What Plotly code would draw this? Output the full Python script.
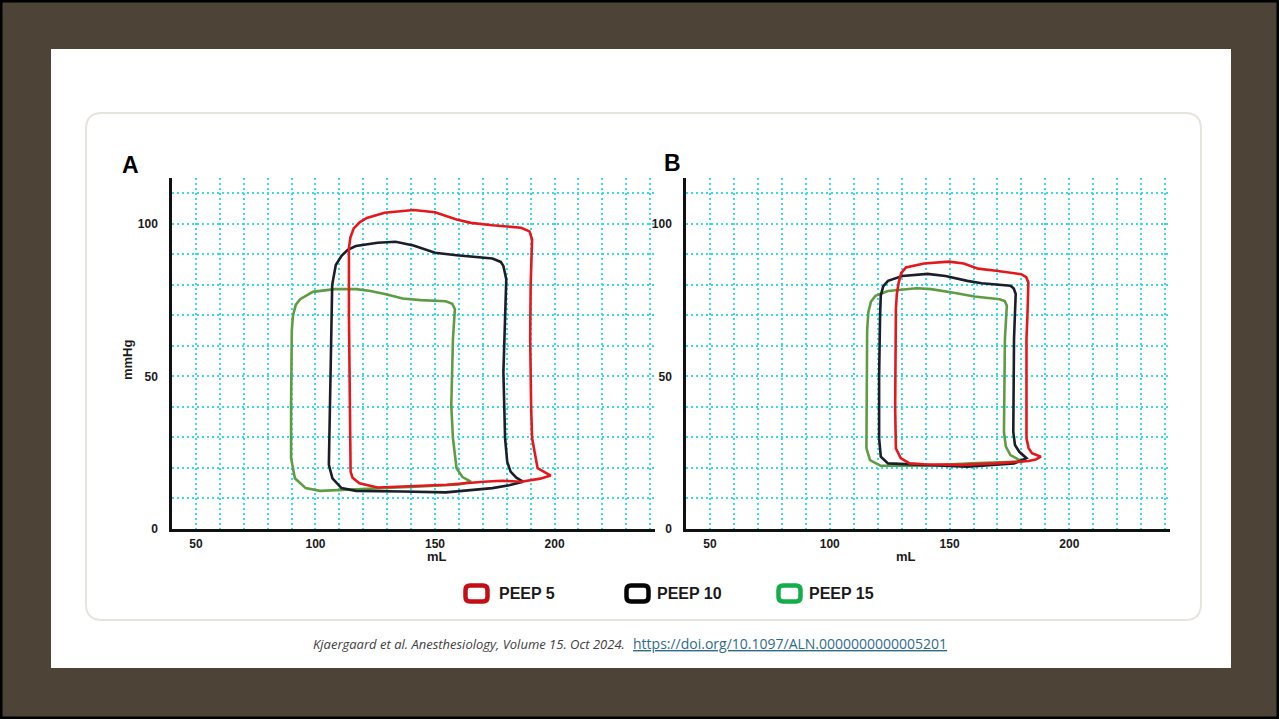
import plotly.graph_objects as go

W, H = 1279, 719

# ---------------- data ----------------
# Panel A — PEEP 5 (red)
RED_A_V = [114.7, 114.3, 114.0, 114.0, 114.6, 116.0, 118.5, 121.5, 128.9, 141.0, 150.0, 159.0, 165.0, 174.0, 186.0, 189.5,
           190.6, 190.0, 189.8, 190.2, 190.6, 192.9, 196.0, 198.4, 194.0, 186.0, 178.0, 170.3, 155.0, 139.5, 126.0, 118.4,
           115.5, 114.7]
RED_A_P = [18.8, 40.0, 70.0, 92.0, 95.5, 98.5, 100.5, 101.9, 103.6, 104.5, 103.8, 101.4, 100.3, 99.5, 98.7, 97.5,
           94.9, 80.0, 62.3, 40.0, 29.7, 19.9, 18.5, 17.5, 16.5, 15.5, 15.8, 15.5, 14.5, 13.9, 13.6, 15.0,
           16.8, 18.8]
# Panel A — PEEP 10 (black)
BLK_A_V = [105.6, 106.0, 106.5, 107.0, 108.5, 110.9, 113.5, 116.9, 126.0, 133.5, 141.0, 150.0, 159.0, 174.0, 177.5,
           178.6, 179.8, 179.2, 178.6, 179.3, 180.2, 181.6, 184.0, 186.8, 181.0, 174.0, 164.0, 154.5, 136.5, 116.9,
           110.9, 107.1, 105.6]
BLK_A_P = [21.0, 40.0, 60.0, 80.0, 86.5, 89.5, 91.5, 92.7, 93.8, 94.1, 92.9, 90.5, 89.7, 88.6, 87.5,
           86.2, 81.8, 65.0, 51.4, 29.7, 22.0, 18.8, 16.8, 15.5, 14.3, 13.4, 12.6, 12.0, 12.3, 12.5,
           13.4, 16.6, 21.0]
# Panel A — PEEP 15 (green)
GRN_A_V = [89.8, 89.8, 90.1, 90.6, 91.8, 93.6, 98.9, 107.9, 117.0, 123.0, 129.0, 136.5, 144.0, 154.5, 157.2, 158.3,
           157.5, 156.8, 157.5, 159.0, 161.5, 165.0, 160.0, 144.0, 126.0, 110.0, 101.9, 95.9, 91.4, 89.8, 89.8]
GRN_A_P = [40.5, 55.0, 65.0, 70.0, 73.5, 75.3, 77.7, 78.6, 78.6, 78.0, 77.0, 75.5, 75.0, 74.6, 73.8, 72.0,
           62.3, 40.5, 29.7, 19.9, 17.0, 15.5, 14.6, 13.9, 13.4, 12.9, 12.5, 13.4, 16.6, 23.2, 40.5]

# Panel B — PEEP 5 (red)
RED_B_V = [127.3, 127.3, 127.6, 128.0, 128.8, 129.8, 131.8, 139.3, 149.8, 155.9, 161.9, 169.4, 179.9, 182.0, 182.9,
           182.5, 182.1, 182.1, 183.0, 184.4, 188.1, 186.0, 182.9, 169.4, 155.0, 139.3, 133.3, 129.6, 127.6, 127.3]
RED_B_P = [40.0, 60.0, 72.0, 77.0, 80.8, 83.8, 85.7, 87.0, 87.6, 87.0, 85.3, 84.6, 83.5, 82.5, 80.8,
           70.0, 62.3, 29.7, 26.5, 24.8, 23.7, 22.8, 22.3, 21.5, 21.0, 21.2, 21.5, 23.2, 26.4, 40.0]
# Panel B — PEEP 10 (black)
BLK_B_V = [120.6, 120.6, 121.0, 121.3, 122.3, 124.3, 130.3, 140.8, 148.3, 157.4, 163.4, 175.4, 176.8, 177.6, 176.9,
           176.6, 177.3, 179.1, 182.1, 176.9, 157.4, 136.3, 124.3, 121.3, 120.6]
BLK_B_P = [29.7, 50.0, 70.0, 76.5, 79.5, 81.3, 82.9, 83.6, 82.9, 81.3, 80.5, 79.7, 78.8, 77.0, 62.3,
           31.8, 27.5, 25.3, 23.2, 21.5, 20.4, 21.0, 21.5, 23.7, 29.7]
# Panel B — PEEP 15 (green)
GRN_B_V = [115.3, 115.3, 115.6, 116.1, 117.2, 119.1, 124.3, 136.3, 142.3, 152.3, 160.4, 170.9, 173.0, 173.9, 173.1,
           172.7, 173.5, 175.4, 180.6, 176.9, 158.9, 139.3, 121.3, 116.8, 115.3, 115.3]
GRN_B_P = [26.4, 50.0, 65.0, 71.0, 74.5, 76.4, 78.0, 78.9, 78.6, 77.3, 76.2, 75.3, 74.7, 73.2, 62.3,
           31.8, 27.0, 24.2, 22.0, 22.0, 21.5, 20.7, 20.7, 22.6, 26.4, 26.4]

SERIES_NAMES = ["PEEP 5", "PEEP 10", "PEEP 15"]
X_TICKS = [50, 100, 150, 200]
Y_TICKS = [0, 50, 100]
CITATION = "Kjaergaard et al. Anesthesiology, Volume 15. Oct 2024."
DOI = "https://doi.org/10.1097/ALN.0000000000005201"

# ---------------- style ----------------
LINE_COLORS = ["#e4181c", "#1b1e29", "#5e9c44"]
ICON_COLORS = ["#c40d14", "#050505", "#14ad4a"]
GRID = "#38dbe6"
FRAME = "#4d4337"
FONT = "Liberation Sans, Arial, sans-serif"


def px(x):
    return x / W


def py(y):
    return 1 - y / H


def rrect(x0, y0, x1, y1, r):
    """rounded rectangle path in paper coords from pixel coords"""
    pts = [
        f"M {px(x0 + r)},{py(y0)}",
        f"L {px(x1 - r)},{py(y0)}",
        f"Q {px(x1)},{py(y0)} {px(x1)},{py(y0 + r)}",
        f"L {px(x1)},{py(y1 - r)}",
        f"Q {px(x1)},{py(y1)} {px(x1 - r)},{py(y1)}",
        f"L {px(x0 + r)},{py(y1)}",
        f"Q {px(x0)},{py(y1)} {px(x0)},{py(y1 - r)}",
        f"L {px(x0)},{py(y0 + r)}",
        f"Q {px(x0)},{py(y0)} {px(x0 + r)},{py(y0)}",
        "Z",
    ]
    return " ".join(pts)


fig = go.Figure()

panels = [
    ("x", "y", [(RED_A_V, RED_A_P), (BLK_A_V, BLK_A_P), (GRN_A_V, GRN_A_P)]),
    ("x2", "y2", [(RED_B_V, RED_B_P), (BLK_B_V, BLK_B_P), (GRN_B_V, GRN_B_P)]),
]
for xa, ya, data in panels:
    # draw green, black, red so red sits on top like the reference
    for i in [2, 1, 0]:
        v, p = data[i]
        fig.add_trace(go.Scatter(
            x=v, y=p, mode="lines", xaxis=xa, yaxis=ya,
            line=dict(color=LINE_COLORS[i], width=2.6),
            name=SERIES_NAMES[i], showlegend=False, hoverinfo="skip",
        ))

Y_BOT, Y_TOP = 529, 178
dom_y = [py(Y_BOT), py(Y_TOP)]

grid_common = dict(gridcolor=GRID, griddash="2px,3px", gridwidth=2)
common_x = dict(
    range=[40, 242], tickvals=X_TICKS, ticktext=[str(t) for t in X_TICKS],
    showgrid=True, **grid_common,
    minor=dict(dtick=10, tick0=0, showgrid=True, **grid_common),
    showline=True, linecolor="#111111", linewidth=2.5, zeroline=False,
    ticks="", ticklabelstandoff=2, automargin=False,
    tickfont=dict(family=FONT, size=12, color="#1a1a1a", weight="bold"),
    fixedrange=True,
)
common_y = dict(
    range=[0, 115], tickvals=Y_TICKS, ticktext=[str(t) for t in Y_TICKS],
    showgrid=True, **grid_common,
    minor=dict(dtick=10, tick0=0, showgrid=True, **grid_common),
    showline=True, linecolor="#111111", linewidth=2.5, zeroline=False,
    ticks="", ticklabelstandoff=9, automargin=False,
    tickfont=dict(family=FONT, size=12, color="#1a1a1a", weight="bold"),
    fixedrange=True,
)

fig.update_layout(
    width=W, height=H, autosize=False,
    margin=dict(l=0, r=0, t=0, b=0, pad=0, autoexpand=False),
    paper_bgcolor=FRAME, plot_bgcolor="white",
    showlegend=False,
    xaxis=dict(domain=[px(172), px(655)], anchor="y", **common_x),
    yaxis=dict(domain=dom_y, anchor="x", **common_y),
    xaxis2=dict(domain=[px(686), px(1170)], anchor="y2", **common_x),
    yaxis2=dict(domain=dom_y, anchor="x2", **common_y),
)

shapes = [
    # thin black outer edge
    dict(type="rect", xref="paper", yref="paper", x0=0, x1=1, y0=0, y1=1,
         line=dict(color="#000000", width=5), fillcolor="rgba(0,0,0,0)", layer="below"),
    # white slide
    dict(type="rect", xref="paper", yref="paper", x0=px(51), x1=px(1231), y0=py(668), y1=py(49),
         line=dict(width=0), fillcolor="white", layer="below"),
    # card
    dict(type="path", xref="paper", yref="paper", path=rrect(86, 113, 1201, 620, 16),
         line=dict(color="#e7e4dd", width=2), fillcolor="white", layer="below"),
]

# legend icons
icon_x = [463, 624, 776]
label_x = [497, 655, 807]
for i in range(3):
    x0 = icon_x[i]
    shapes.append(dict(type="path", xref="paper", yref="paper",
                       path=rrect(x0 + 2.5, 585.5, x0 + 24.5, 601.5, 4.5),
                       line=dict(color=ICON_COLORS[i], width=4.5), fillcolor="white", layer="above"))
fig.update_layout(shapes=shapes)

ann = []
for i in range(3):
    ann.append(dict(x=px(label_x[i]), y=py(593.5), xref="paper", yref="paper", xanchor="left", yanchor="middle",
                    text=SERIES_NAMES[i], showarrow=False,
                    font=dict(family=FONT, size=16, color="#1a1a1a", weight="bold")))

# panel letters
ann.append(dict(x=px(120), y=py(165), xref="paper", yref="paper", xanchor="left", yanchor="middle",
                text="A", showarrow=False, font=dict(family=FONT, size=23, color="#000", weight="bold")))
ann.append(dict(x=px(662), y=py(163), xref="paper", yref="paper", xanchor="left", yanchor="middle",
                text="B", showarrow=False, font=dict(family=FONT, size=23, color="#000", weight="bold")))
# axis titles
for cx in [437, 906]:
    ann.append(dict(x=px(cx), y=py(556), xref="paper", yref="paper", xanchor="center", yanchor="middle",
                    text="mL", showarrow=False, font=dict(family=FONT, size=13, color="#1a1a1a", weight="bold")))
ann.append(dict(x=px(127), y=py(360), xref="paper", yref="paper", xanchor="center", yanchor="middle",
                text="mmHg", textangle=-90, showarrow=False,
                font=dict(family=FONT, size=13, color="#1a1a1a", weight="bold")))
# citation
ann.append(dict(x=px(627), y=py(644), xref="paper", yref="paper", xanchor="right", yanchor="middle",
                text="<i>" + CITATION + "</i>", showarrow=False,
                font=dict(family="Open Sans, sans-serif", size=13, color="#404040")))
ann.append(dict(x=px(631), y=py(643), xref="paper", yref="paper", xanchor="left", yanchor="middle",
                text="<u>" + DOI + "</u>", showarrow=False,
                font=dict(family="Open Sans, sans-serif", size=14, color="#2f6b88")))
fig.update_layout(annotations=ann)

fig.write_html(
    "out.html",
    config=dict(displayModeBar=False),
    post_script="document.body.style.margin='0';document.body.style.overflow='hidden';",
)
